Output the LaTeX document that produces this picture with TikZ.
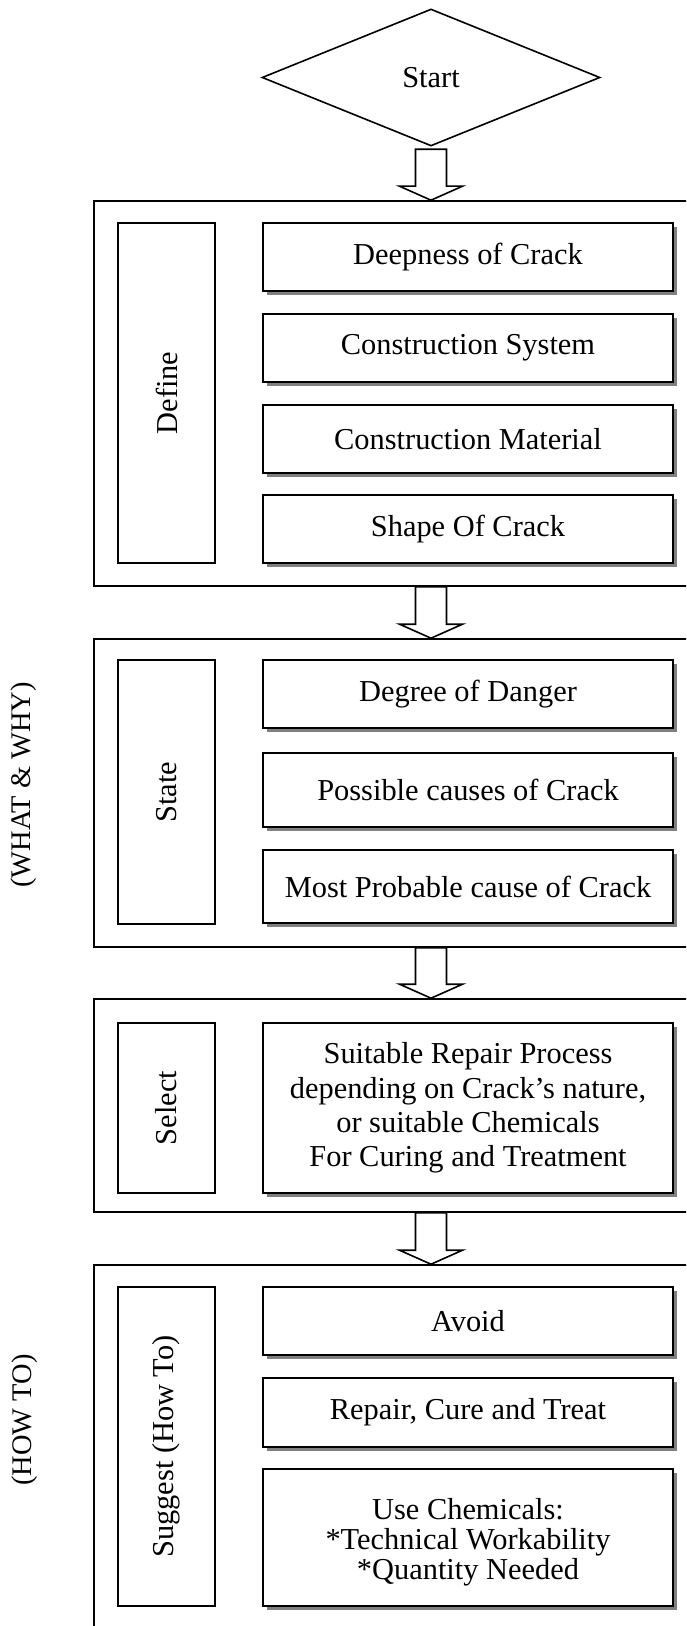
\documentclass[tikz,border=0pt]{standalone}
\usepackage{fontspec}
\setmainfont{Liberation Serif}
\usetikzlibrary{shapes.geometric,calc,shadows}
\tikzset{
  txt/.style={font=\fontsize{15.2}{17.4}\selectfont},
  outerbox/.style={draw, line width=0.8pt, inner sep=0pt, minimum width=333pt},
  labelbox/.style={draw, line width=0.8pt, inner sep=0pt, minimum width=48.5pt, txt},
  itembox/.style={draw, line width=0.8pt, fill=white, inner sep=0pt, minimum width=205pt, align=center, txt,
    drop shadow={shadow xshift=2.2pt, shadow yshift=-2.2pt, fill=black!50, opacity=1}},
  blockarrow/.style={draw, fill=white, line width=0.8pt, line join=miter},
  startshape/.style={draw, diamond, line width=0.8pt, inner sep=0pt, minimum width=169pt, minimum height=68.5pt, txt},
  sidelabel/.style={rotate=90, font=\fontsize{14.2}{17}\selectfont}
}
\newcommand{\blockarr}[2]{%
  \draw[blockarrow] let \p1=(#1), \p2=(#2) in
    (\x1-7.75pt,\y1) -- (\x1-7.75pt,\y2+7pt) -- (\x1-15.75pt,\y2+7pt) -- (\x1,\y2)
    -- (\x1+15.75pt,\y2+7pt) -- (\x1+7.75pt,\y2+7pt) -- (\x1+7.75pt,\y1) -- cycle;}
\begin{document}
\begin{tikzpicture}[x=0.5pt,y=-0.5pt]
\useasboundingbox (0,0) rectangle (686,1626);
\clip (0,0) rectangle (686,1626);

% start
\node[startshape] (start) at (431,77.5) {Start};

% section 1
\node[outerbox, minimum height=192.5pt] (sec1) at (427,393.5) {};
\node[labelbox, minimum height=170pt] (define) at (166.5,393) {\rotatebox{90}{Define}};
\node[itembox, minimum height=34pt] (d1) at (468,257) {Deepness of Crack};
\node[itembox, minimum height=34pt] (d2) at (468,348) {Construction System};
\node[itembox, minimum height=34pt] (d3) at (468,439) {Construction Material};
\node[itembox, minimum height=34pt] (d4) at (468,529) {Shape Of Crack};

% section 2
\node[outerbox, minimum height=154pt] (sec2) at (427,793) {};
\node[labelbox, minimum height=132pt] (state) at (166.5,792) {\rotatebox{90}{State}};
\node[itembox, minimum height=34pt] (s1) at (468,694) {Degree of Danger};
\node[itembox, minimum height=37pt] (s2) at (468,790) {Possible causes of Crack};
\node[itembox, minimum height=36.5pt] (s3) at (468,886.5) {Most Probable cause of Crack};

% section 3
\node[outerbox, minimum height=106.5pt] (sec3) at (427,1105.5) {};
\node[labelbox, minimum height=85pt] (select) at (166.5,1108) {\rotatebox{90}{Select}};
\node[itembox, minimum height=85pt, font=\fontsize{15.2}{17.2}\selectfont] (r1) at (468,1108)
  {Suitable Repair Process\\depending on Crack’s nature,\\or suitable Chemicals\\For Curing and Treatment};

% section 4
\node[outerbox, minimum height=217.5pt] (sec4) at (427,1482.5) {};
\node[labelbox, minimum height=159.5pt] (suggest) at (166.5,1446.5) {\rotatebox{90}{Suggest (How To)}};
\node[itembox, minimum height=34pt] (g1) at (468,1321) {Avoid};
\node[itembox, minimum height=34.5pt] (g2) at (468,1412.5) {Repair, Cure and Treat};
\node[itembox, minimum height=68.5pt, font=\fontsize{15.2}{15.2}\selectfont] (g3) at (468,1537.5)
  {\raisebox{-3pt}[\height][\depth]{\begin{tabular}{@{}c@{}}Use Chemicals:\\{*}Technical Workability\\{*}Quantity Needed\end{tabular}}};

% side labels
\node[sidelabel] (whatwhy) at (24,785) {(WHAT \& WHY)};
\node[sidelabel] (howto) at (25,1420) {(HOW TO)};

% arrows
\coordinate (a1top) at ($(start.south)+(0,2.5)$);
\blockarr{a1top}{start.south |- sec1.north}
\blockarr{start.south |- sec1.south}{start.south |- sec2.north}
\blockarr{start.south |- sec2.south}{start.south |- sec3.north}
\blockarr{start.south |- sec3.south}{start.south |- sec4.north}
\end{tikzpicture}
\end{document}
